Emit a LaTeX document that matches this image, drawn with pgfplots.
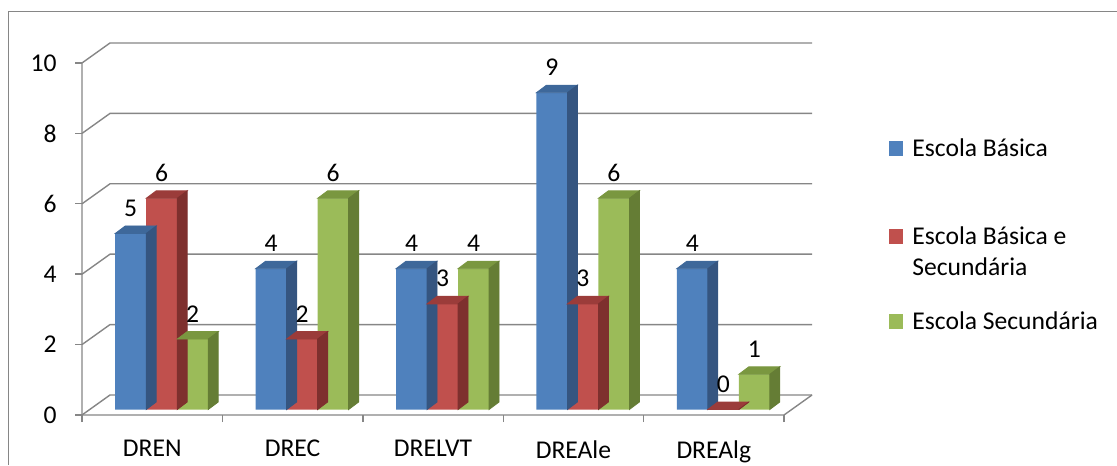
\documentclass[border=0pt]{standalone}
\usepackage{fontspec}
\setmainfont{Carlito}
\usepackage{pgfplots}
\pgfplotsset{compat=1.18}
\usepackage{pgfplotstable}
\definecolor{gridc}{RGB}{134,134,134}
\definecolor{bfront}{RGB}{79,129,189}
\definecolor{btop}{RGB}{62,104,154}
\definecolor{bside}{RGB}{53,85,128}
\definecolor{rfront}{RGB}{192,80,77}
\definecolor{rtop}{RGB}{155,60,58}
\definecolor{rside}{RGB}{126,48,46}
\definecolor{gfront}{RGB}{155,187,89}
\definecolor{gtop}{RGB}{122,151,64}
\definecolor{gside}{RGB}{101,125,53}
\pgfplotstableread{
x b r g
0 5 6 2
1 4 2 6
2 4 3 4
3 9 3 6
4 4 0 1
}\data
\pgfdeclareplotmark{nothing}{}
\newcommand\prism[2]{%
  \fill[#1] (-7.75pt,0pt) -- (7.75pt,0pt) -- (12.75pt,3.75pt) -- (-2.75pt,3.75pt) -- cycle;
  \fill[#2] (7.75pt,0pt) -- (12.75pt,3.75pt) -- (12.75pt,{3.75pt-\val*17.6pt}) -- (7.75pt,{-\val*17.6pt}) -- cycle;
}
\pgfplotsset{
  prismplot/.style 2 args={scatter, only marks, mark=nothing,
    visualization depends on={rawy \as \val},
    scatter/@pre marker code/.code={\prism{#1}{#2}},
    scatter/@post marker code/.code={}},
}
\begin{document}
\fontsize{12.8}{15}\selectfont
\begin{tikzpicture}
\useasboundingbox (0,0) rectangle (558.5pt,232.5pt);
\draw[gridc, line width=0.5pt] (4pt,0) -- (4pt,226.5pt) -- (558.5pt,226.5pt);
\begin{axis}[at={(41pt,25pt)}, anchor=south west, scale only axis, width=351pt, height=176pt,
 xmin=-0.5, xmax=4.5, ymin=0, ymax=10, clip=false,
 axis line style={draw=none},
 xtick={0,...,4}, xticklabels={DREN,DREC,DRELVT,DREAle,DREAlg},
 major x tick style={draw=none},
 minor xtick={-0.5,0.5,1.5,2.5,3.5,4.5},
 ytick={0,2,...,10},
 xtick pos=bottom, ytick pos=left, tick align=outside,
 tick style={gridc, line width=0.7pt},
 major tick length=3.5pt, minor tick length=3.5pt,
 /pgf/number format/assume math mode=true,
 yticklabel style={xshift=-4.7pt},
 xticklabel style={yshift=-4.7pt},
]
\draw[gridc, line width=0.7pt] (axis cs:-0.5,10) -- (axis cs:-0.5,0) -- (axis cs:4.5,0) -- ++(14pt,10pt);
\draw[gridc, line width=0.7pt] (axis cs:-0.5,0) -- ++(14pt,10pt) -- ([shift={(14pt,10pt)}]axis cs:4.5,0);
\draw[gridc, line width=0.7pt] (axis cs:-0.5,2) -- ++(14pt,10pt) -- ([shift={(14pt,10pt)}]axis cs:4.5,2);
\draw[gridc, line width=0.7pt] (axis cs:-0.5,4) -- ++(14pt,10pt) -- ([shift={(14pt,10pt)}]axis cs:4.5,4);
\draw[gridc, line width=0.7pt] (axis cs:-0.5,6) -- ++(14pt,10pt) -- ([shift={(14pt,10pt)}]axis cs:4.5,6);
\draw[gridc, line width=0.7pt] (axis cs:-0.5,8) -- ++(14pt,10pt) -- ([shift={(14pt,10pt)}]axis cs:4.5,8);
\draw[gridc, line width=0.7pt] (axis cs:-0.5,10) -- ++(14pt,10pt) -- ([shift={(14pt,10pt)}]axis cs:4.5,10);
\end{axis}
\begin{axis}[at={(45.75pt,27.75pt)}, anchor=south west, scale only axis, width=351pt, height=176pt,
 xmin=-0.5, xmax=4.5, ymin=0, ymax=10, clip=false, hide axis,
 bar width=15.5pt,
 /pgf/number format/assume math mode=true]
\addplot[ybar, bar shift=-15.5pt, fill=bfront, draw=none, nodes near coords,
  every node near coord/.append style={anchor=base, xshift=-15.5pt, yshift=8.5pt, text=black}] table[x=x,y=b]{\data};
\addplot[prismplot={btop}{bside}] table[x expr=\thisrow{x}-0.2208, y=b]{\data};
\addplot[ybar, bar shift=0pt, fill=rfront, draw=none, nodes near coords,
  every node near coord/.append style={anchor=base, yshift=8.5pt, text=black}] table[x=x,y=r]{\data};
\addplot[prismplot={rtop}{rside}] table[x=x, y=r]{\data};
\addplot[ybar, bar shift=15.5pt, fill=gfront, draw=none, nodes near coords,
  every node near coord/.append style={anchor=base, xshift=15.5pt, yshift=8.5pt, text=black}] table[x=x,y=g]{\data};
\addplot[prismplot={gtop}{gside}] table[x expr=\thisrow{x}+0.2208, y=g]{\data};
\end{axis}
\fill[bfront] (444.5pt,154.25pt) rectangle ++(7pt,7.5pt);
\node[anchor=base west, inner sep=0pt] at (456pt,154pt) {Escola Básica};
\fill[rfront] (444.5pt,110.25pt) rectangle ++(7pt,7.5pt);
\node[anchor=base west, inner sep=0pt] at (456pt,110pt) {Escola Básica e};
\node[anchor=base west, inner sep=0pt] at (456pt,94.5pt) {Secundária};
\fill[gfront] (444.5pt,67.75pt) rectangle ++(7pt,7.5pt);
\node[anchor=base west, inner sep=0pt] at (456pt,67.5pt) {Escola Secundária};
\end{tikzpicture}
\end{document}
